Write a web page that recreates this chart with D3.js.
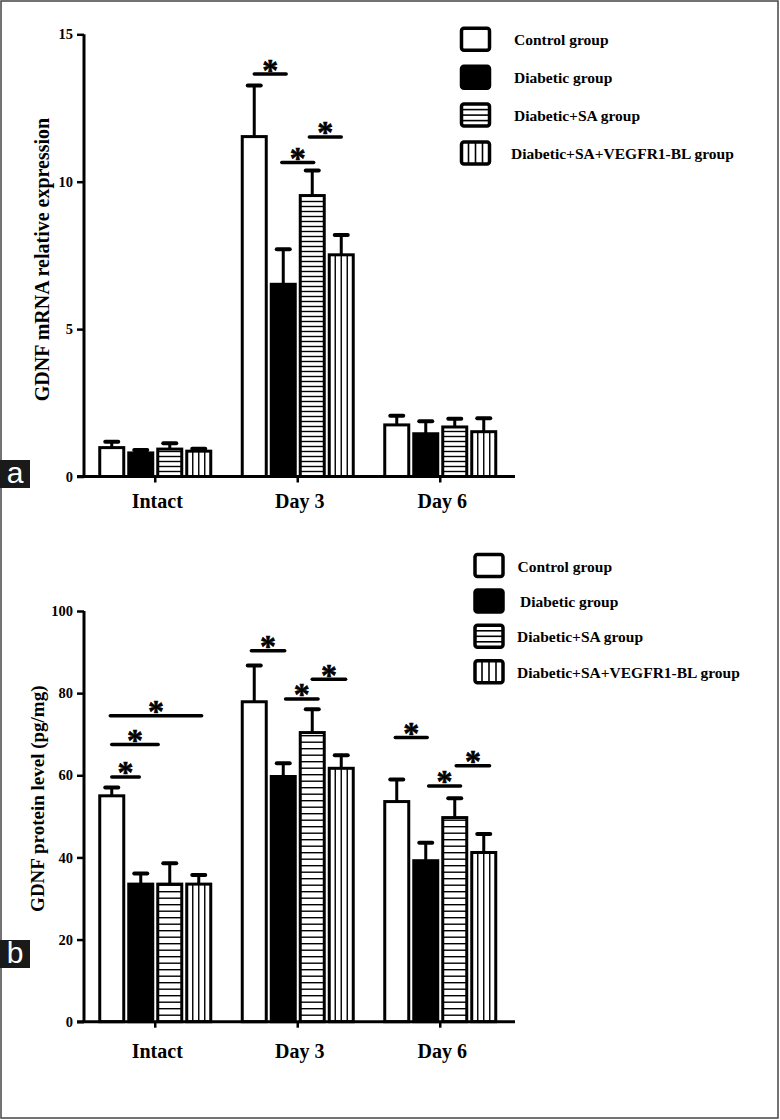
<!DOCTYPE html>
<html>
<head>
<meta charset="utf-8">
<script src="https://cdn.jsdelivr.net/npm/d3@7/dist/d3.min.js"></script>
<style>
  html, body { margin: 0; padding: 0; background: #fff; }
  svg { display: block; }
  text { font-family: "Liberation Serif", "Times New Roman", serif; font-weight: bold; fill: #000; }
</style>
</head>
<body>
<svg id="chart" width="780" height="1120"></svg>
<script>
// ---------- DATA ----------
const categories = ["Intact", "Day 3", "Day 6"];
const groups = ["Control group", "Diabetic group", "Diabetic+SA group", "Diabetic+SA+VEGFR1-BL group"];
const fills = ["open", "solid", "hstripe", "vstripe"];

// Panel a: GDNF mRNA relative expression (rows = categories, columns = groups)
const mrnaMeans = [[0.98, 0.80, 0.93, 0.86], [11.53, 6.52, 9.53, 7.52], [1.75, 1.45, 1.68, 1.52]];
const mrnaErrors = [[0.20, 0.10, 0.20, 0.08], [1.73, 1.19, 0.85, 0.67], [0.31, 0.42, 0.28, 0.46]];
const mrnaTicks = [0, 5, 10, 15];
// significance bars: [category index, from bar slot, to bar slot, height]
const mrnaSig = [[1, 0.0, 1.1, 13.65], [1, 0.95, 2.05, 10.65], [1, 1.9, 3.0, 11.52]];

// Panel b: GDNF protein level (pg/mg)
const proteinMeans = [[55.0, 33.5, 33.5, 33.5], [77.9, 59.7, 70.4, 61.7], [53.6, 39.2, 49.7, 41.2]];
const proteinErrors = [[2.0, 2.6, 5.1, 2.2], [8.8, 3.2, 5.7, 3.2], [5.4, 4.4, 4.7, 4.5]];
const proteinTicks = [0, 20, 40, 60, 80, 100];
const proteinSig = [[0, 0.0, 0.95, 59.6], [0, 0.0, 1.6, 67.5], [0, -0.05, 3.1, 74.5],
                    [1, -0.1, 1.05, 90.3], [1, 1.08, 2.2, 78.6], [1, 2.0, 3.15, 83.4],
                    [2, -0.05, 1.05, 69.2], [2, 1.1, 2.2, 57.4], [2, 2.05, 3.2, 62.3]];

// ---------- DRAW ----------
const svg = d3.select("#chart");

// outer frame
svg.append("rect").attr("x", 1).attr("y", 1).attr("width", 777).attr("height", 1117)
  .attr("fill", "none").attr("stroke", "#444").attr("stroke-width", 1.5);

function drawPanel(cfg) {
  const g = svg.append("g");
  const x = d3.scaleBand().domain(categories).range([cfg.left, cfg.left + 427.5]);
  const slot = d3.scaleLinear().domain([0, 3]).range([-43.5, 43.5]);
  const y = d3.scaleLinear().domain([0, cfg.max]).range([cfg.bottom, cfg.top]);
  const barW = 24;
  const cx = (ci, s) => x(categories[ci]) + x.bandwidth() / 2 + slot(s);

  const bars = [];
  cfg.means.forEach((row, ci) => row.forEach((v, gi) => bars.push({ci, gi, v, e: cfg.errors[ci][gi]})));

  // error bars (behind bars)
  const eb = g.append("g").attr("stroke", "#000").attr("stroke-linecap", "round");
  eb.selectAll("line.stem").data(bars).join("line").attr("class", "stem")
    .attr("x1", d => cx(d.ci, d.gi)).attr("x2", d => cx(d.ci, d.gi))
    .attr("y1", d => y(d.v)).attr("y2", d => y(d.v + d.e)).attr("stroke-width", 3);
  eb.selectAll("line.cap").data(bars).join("line").attr("class", "cap")
    .attr("x1", d => cx(d.ci, d.gi) - 6.5).attr("x2", d => cx(d.ci, d.gi) + 6.5)
    .attr("y1", d => y(d.v + d.e)).attr("y2", d => y(d.v + d.e)).attr("stroke-width", 4);

  // bars
  const bg = g.append("g");
  bars.forEach(d => {
    const x0 = cx(d.ci, d.gi) - barW / 2, y0 = y(d.v), y1 = y(0);
    const kind = fills[d.gi];
    bg.append("rect").attr("x", x0).attr("y", y0).attr("width", barW).attr("height", y1 - y0)
      .attr("fill", kind === "solid" ? "#000" : "#fff");
    if (kind === "hstripe") {
      const ys = d3.range(y1 - cfg.stripe, y0 + 1, -cfg.stripe);
      bg.selectAll(null).data(ys).join("line")
        .attr("x1", x0).attr("x2", x0 + barW).attr("y1", v => v).attr("y2", v => v)
        .attr("stroke", "#000").attr("stroke-width", 1.4);
    }
    if (kind === "vstripe") {
      bg.selectAll(null).data([1, 2, 3]).join("line")
        .attr("x1", k => x0 + k * barW / 4).attr("x2", k => x0 + k * barW / 4)
        .attr("y1", y0).attr("y2", y1).attr("stroke", "#000").attr("stroke-width", 1.4);
    }
    bg.append("rect").attr("x", x0).attr("y", y0).attr("width", barW).attr("height", y1 - y0)
      .attr("fill", "none").attr("stroke", "#000").attr("stroke-width", 3);
  });

  // significance lines
  const sg = g.append("g");
  sg.selectAll("line").data(cfg.sig).join("line")
    .attr("x1", d => cx(d[0], d[1])).attr("x2", d => cx(d[0], d[2]))
    .attr("y1", d => y(d[3])).attr("y2", d => y(d[3]))
    .attr("stroke", "#000").attr("stroke-width", 3.5).attr("stroke-linecap", "round");
  sg.selectAll("text").data(cfg.sig).join("text")
    .attr("x", d => (cx(d[0], d[1]) + cx(d[0], d[2])) / 2)
    .attr("y", d => y(d[3]) + 6.5)
    .attr("text-anchor", "middle").style("font-size", "32px")
    .style("stroke", "#000").style("stroke-width", 0.6).text("*");

  // axes
  const yAxis = g.append("g").attr("transform", `translate(${cfg.left},0)`)
    .call(d3.axisLeft(y).tickValues(cfg.ticks).tickSize(7).tickSizeOuter(0).tickPadding(4));
  yAxis.select(".domain").attr("stroke-width", 3).attr("d", `M0,${cfg.bottom}V${cfg.top}`);
  yAxis.selectAll(".tick line").attr("stroke-width", 2.5);
  yAxis.selectAll(".tick text").style("font-family", '"Liberation Serif", serif')
    .style("font-weight", "bold").style("font-size", "14.5px");

  const xAxis = g.append("g").attr("transform", `translate(0,${cfg.bottom})`)
    .call(d3.axisBottom(x).tickSize(6).tickSizeOuter(0).tickPadding(14));
  xAxis.select(".domain").attr("stroke-width", 3).attr("d", `M${cfg.left - 7},0H515`);
  xAxis.selectAll(".tick line").attr("stroke-width", 2.5);
  xAxis.selectAll(".tick text").style("font-family", '"Liberation Serif", serif')
    .style("font-weight", "bold").style("font-size", "20px").attr("dx", 2).attr("y", cfg.xlabelDy);

  // y label
  g.append("text").attr("transform", `translate(${cfg.ylabX},${cfg.ylabY}) rotate(-90)`)
    .attr("text-anchor", "middle").style("font-size", cfg.ylabSize + "px").text(cfg.ylabel);

  // legend
  const lg = g.append("g");
  groups.forEach((name, i) => {
    const by = cfg.legY + i * cfg.legStep;
    const bx = cfg.legX;
    const kind = fills[i];
    lg.append("rect").attr("x", bx).attr("y", by).attr("width", 28).attr("height", 22).attr("rx", 2.5)
      .attr("fill", kind === "solid" ? "#000" : "#fff");
    if (kind === "hstripe") {
      lg.selectAll(null).data([1, 2, 3]).join("line")
        .attr("x1", bx).attr("x2", bx + 28).attr("y1", k => by + k * 22 / 4).attr("y2", k => by + k * 22 / 4)
        .attr("stroke", "#000").attr("stroke-width", 1.6);
    }
    if (kind === "vstripe") {
      lg.selectAll(null).data([1, 2, 3]).join("line")
        .attr("x1", k => bx + k * 28 / 4).attr("x2", k => bx + k * 28 / 4).attr("y1", by).attr("y2", by + 22)
        .attr("stroke", "#000").attr("stroke-width", 1.6);
    }
    lg.append("rect").attr("x", bx).attr("y", by).attr("width", 28).attr("height", 22).attr("rx", 2.5)
      .attr("fill", "none").attr("stroke", "#000").attr("stroke-width", 3.5);
    lg.append("text").attr("x", cfg.legTextX[i]).attr("y", by + 17)
      .style("font-size", "15.5px").text(name);
  });

  // panel letter
  g.append("rect").attr("x", 0).attr("y", cfg.letterY).attr("width", 30).attr("height", 28).attr("fill", "#1a1a1a");
  g.append("text").attr("x", 15).attr("y", cfg.letterY + 23).attr("text-anchor", "middle")
    .style("font-family", '"Liberation Sans", Arial, sans-serif').style("font-weight", "normal")
    .style("font-size", "30px").style("fill", "#fff").text(cfg.letter);
}

drawPanel({
  means: mrnaMeans, errors: mrnaErrors, ticks: mrnaTicks, sig: mrnaSig, max: 15,
  left: 84, top: 34.3, bottom: 476.5, stripe: 5, xlabelDy: 17,
  ylabel: "GDNF mRNA relative expression", ylabX: 49, ylabY: 259.5, ylabSize: 20,
  legX: 461.5, legY: 28.3, legStep: 37.9, legTextX: [514, 514, 514, 511],
  letter: "a", letterY: 460
});

drawPanel({
  means: proteinMeans, errors: proteinErrors, ticks: proteinTicks, sig: proteinSig, max: 100,
  left: 84, top: 611, bottom: 1021.7, stripe: 6.5, xlabelDy: 22,
  ylabel: "GDNF protein level (pg/mg)", ylabX: 43.5, ylabY: 798.7, ylabSize: 19,
  legX: 475, legY: 554.5, legStep: 35.4, legTextX: [517.5, 520, 517, 517],
  letter: "b", letterY: 940
});
</script>
</body>
</html>
